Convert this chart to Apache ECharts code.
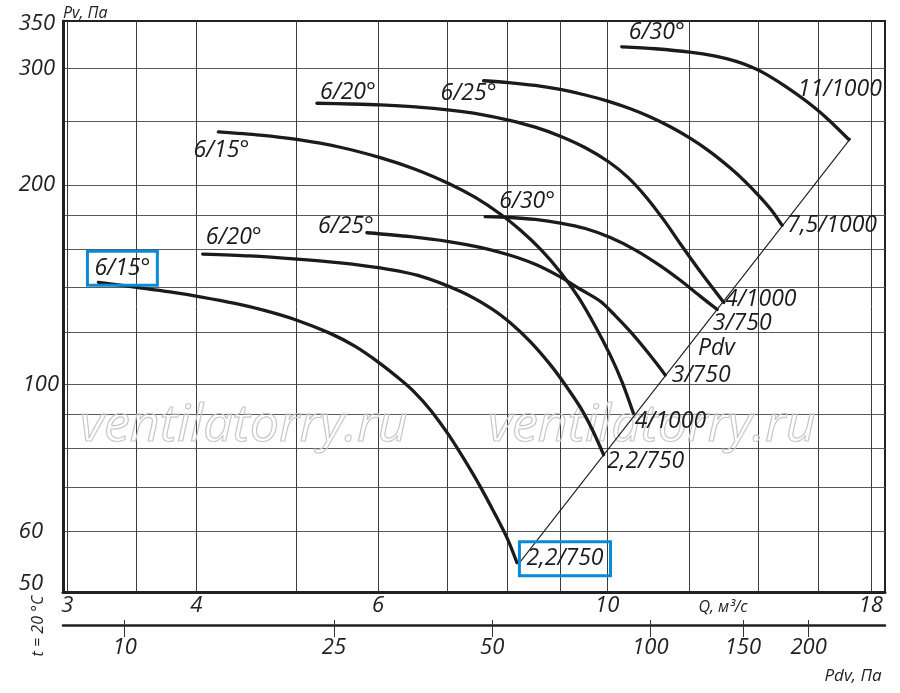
<!DOCTYPE html>
<html><head><meta charset="utf-8">
<script src="https://cdn.jsdelivr.net/npm/echarts@6/dist/echarts.min.js"></script>
<style>html,body{margin:0;padding:0;background:#fff}#c{width:900px;height:693px}</style>
</head><body><div id="c"></div>
<script>
// ---- axis ticks / grid values ----
const qTicks = [3, 4, 6, 10, 18];
const qGrid = [3, 3.5, 4, 5, 6, 7, 8, 9, 10, 12, 14, 16, 18];
const pvTicks = [50, 60, 100, 200, 300, 350];
const pvGrid = [60, 70, 80, 90, 100, 120, 140, 160, 180, 200, 250, 300];
const pdvTicks = [10, 25, 50, 100, 150, 200];

// ---- curves: Q, m3/s  and  Pv, Pa ----
// 750 rpm family
const lo15Q  = [3.215, 3.502, 3.772, 4.034, 4.361, 4.664, 5.005, 5.392, 5.701, 6.028, 6.304, 6.494, 6.741, 7.022, 7.260, 7.534, 7.762, 7.996, 8.177];
const lo15Pv = [142.6, 140.1, 137.9, 135.6, 132.5, 129.2, 125.0, 119.4, 114.1, 107.5, 101.7, 97.6, 91.5, 83.9, 77.3, 70.1, 64.3, 58.7, 53.8];
const lo20Q  = [4.057, 4.510, 5.005, 5.513, 6.028, 6.591, 7.204, 7.704, 8.055, 8.423, 8.807, 9.108, 9.419, 9.674, 9.920];
const lo20Pv = [157.3, 156.3, 154.6, 152.6, 149.9, 145.7, 138.2, 130.5, 123.9, 116.0, 107.1, 99.8, 92.3, 85.4, 78.3];
const lo25Q  = [5.851, 6.446, 7.022, 7.534, 8.024, 8.517, 9.006, 9.417, 9.847, 10.18, 10.53, 10.89, 11.17, 11.38];
const lo25Pv = [169.4, 167.1, 164.3, 161.0, 156.9, 151.8, 145.3, 139.2, 133.5, 127.0, 120.1, 112.9, 107.4, 103.3];
const lo30Q  = [7.617, 8.055, 8.517, 9.006, 9.524, 10.07, 10.65, 11.26, 11.77, 12.31, 12.78];
const lo30Pv = [179.1, 178.6, 177.4, 175.2, 171.9, 166.6, 159.5, 151.0, 143.6, 135.8, 129.7];
// 1000 rpm family
const up15Q  = [4.201, 4.611, 5.005, 5.513, 6.028, 6.516, 7.045, 7.451, 7.877, 8.237, 8.612, 9.006, 9.376, 9.737, 10.07, 10.34, 10.60];
const up15Pv = [240.6, 237.9, 234.3, 228.0, 219.9, 211.2, 200.5, 191.5, 180.8, 171.0, 160.1, 147.8, 135.4, 122.4, 110.6, 100.7, 90.5];
const up20Q  = [5.234, 5.637, 6.028, 6.516, 7.045, 7.534, 8.024, 8.517, 9.006, 9.524, 10.03, 10.48, 10.93, 11.38, 11.77, 12.31, 12.97];
const up20Pv = [265.7, 265.0, 264.1, 262.3, 259.4, 255.7, 250.6, 244.5, 236.9, 227.6, 216.8, 205.2, 191.0, 175.9, 163.0, 147.9, 132.9];
const up25Q  = [7.590, 8.024, 8.517, 9.006, 9.524, 10.03, 10.53, 11.01, 11.51, 12.04, 12.59, 13.16, 13.61, 14.07, 14.45, 14.77];
const up25Pv = [287.3, 285.5, 282.6, 278.7, 273.4, 267.4, 260.6, 253.3, 244.8, 235.1, 224.2, 212.1, 202.2, 191.6, 182.6, 173.8];
const up30Q  = [10.33, 11.13, 12.02, 12.73, 13.31, 13.76, 14.23, 14.88, 15.56, 16.27, 17.14];
const up30Pv = [323.3, 321.1, 317.4, 312.9, 307.5, 301.8, 294.3, 281.8, 268.2, 253.3, 234.2];
// dynamic pressure line
const pdvLineQ  = [8.24, 17.2];
const pdvLinePv = [54.0, 235.0];

// ---- labels ----
const startLabels = ['6/15°', '6/20°', '6/25°', '6/30°', '6/15°', '6/20°', '6/25°', '6/30°'];
const endLabels   = ['2,2/750', '2,2/750', '3/750', '3/750', '4/1000', '4/1000', '7,5/1000', '11/1000'];

const FONT = '"Open Sans", "Noto Sans", sans-serif';
const INK = '#1b1b1b';
const BLUE = '#0a8ad6';

const curves = [
  {q: lo15Q, p: lo15Pv, s: [24, -14], e: [48, -4], boxS: true, boxE: true},
  {q: lo20Q, p: lo20Pv, s: [31, -17], e: [42, 7]},
  {q: lo25Q, p: lo25Pv, s: [-21, -6], e: [36, 0]},
  {q: lo30Q, p: lo30Pv, s: [42, -15], e: [25, 14]},
  {q: up15Q, p: up15Pv, s: [3, 19], e: [37, 8]},
  {q: up20Q, p: up20Pv, s: [31, -11], e: [37, -3]},
  {q: up25Q, p: up25Pv, s: [-15, 13], e: [50, 0]},
  {q: up30Q, p: up30Pv, s: [35, -14], e: [-9, -50]}
];

function lbl(text, off, boxed) {
  const o = {show: true, position: 'inside', formatter: text, offset: off,
    fontFamily: FONT, fontStyle: 'italic', fontSize: 23, color: INK};
  if (boxed) Object.assign(o, {borderColor: BLUE, borderWidth: 3, padding: [6, 7, 5, 7]});
  return o;
}

const series = curves.map((c, k) => ({
  type: 'line', xAxisIndex: 0, yAxisIndex: 0, smooth: 0.3,
  symbol: 'circle', symbolSize: 2, showSymbol: true,
  itemStyle: {color: INK}, lineStyle: {color: INK, width: 3.3, cap: 'round', join: 'round'},
  silent: true, emphasis: {disabled: true}, z: 3,
  label: {show: false},
  data: c.q.map((q, i) => {
    const item = {value: [q, c.p[i]]};
    if (i === 0) item.label = lbl(startLabels[k], c.s, c.boxS);
    if (i === c.q.length - 1) item.label = lbl(endLabels[k], c.e, c.boxE);
    return item;
  })
}));
series.push({
  type: 'line', xAxisIndex: 0, yAxisIndex: 0,
  symbol: 'circle', symbolSize: 1, showSymbol: true,
  itemStyle: {color: INK}, lineStyle: {color: INK, width: 1.1},
  silent: true, emphasis: {disabled: true}, z: 2,
  data: pdvLineQ.map((q, i) => {
    const item = {value: [q, pdvLinePv[i]]};
    if (i === 1) item.label = lbl('Pdv', [-134, 210], false);
    return item;
  })
});

const axisFont = {fontFamily: FONT, fontStyle: 'italic', fontSize: 22, color: '#222'};
const yRich = {
  n: Object.assign({padding: [0, 4, 0, 0]}, axisFont),
  m: Object.assign({padding: [0, 0, 0, 0]}, axisFont),
  s: Object.assign({padding: [0, 16, 0, 0]}, axisFont)
};

const option = {
  animation: false,
  backgroundColor: '#fff',
  grid: {left: 63, right: 15, top: 21, bottom: 101, show: true, borderColor: '#222', borderWidth: 2,
         containLabel: false, outerBoundsMode: 'none'},
  xAxis: [
    {type: 'log', min: 2.971, max: 18.58, position: 'bottom',
     axisLine: {show: true, onZero: false, lineStyle: {color: '#222', width: 3}},
     axisTick: {show: false, customValues: qGrid},
     axisLabel: Object.assign({customValues: qTicks, margin: 3, formatter: v => String(Math.round(v))}, axisFont),
     splitLine: {show: true, lineStyle: {color: '#3c3c3c', width: 1}}},
    {type: 'log', min: 7.63, max: 279.5, position: 'bottom', offset: 33,
     axisLine: {show: true, onZero: false, lineStyle: {color: '#222', width: 2.5}},
     axisTick: {show: true, inside: false, length: 12, customValues: pdvTicks, lineStyle: {color: '#333', width: 1}},
     axisLabel: Object.assign({customValues: pdvTicks, margin: 12, formatter: v => String(Math.round(v))}, axisFont),
     splitLine: {show: false}},
    {type: 'log', min: 7.63, max: 279.5, position: 'bottom', offset: 33,
     axisLine: {show: false},
     axisTick: {show: true, inside: true, length: 5, customValues: pdvTicks, lineStyle: {color: '#333', width: 1}},
     axisLabel: {show: false},
     splitLine: {show: false}}
  ],
  yAxis: {
    type: 'log', min: 48.6, max: 353.6,
    axisLine: {show: true, onZero: false, lineStyle: {color: '#222', width: 3}},
    axisTick: {show: false, customValues: pvGrid},
    axisLabel: {customValues: pvTicks, margin: 4, rich: yRich,
      formatter: v => { const r = Math.round(v); return '{' + (r <= 60 ? 's' : r === 100 ? 'm' : 'n') + '|' + r + '}'; }},
    splitLine: {show: true, lineStyle: {color: '#5a5a5a', width: 1.2}},
    name: 'Pv, Па', nameLocation: 'end', nameGap: 0,
    nameTextStyle: {fontFamily: FONT, fontStyle: 'italic', fontSize: 16, color: '#222', align: 'left', verticalAlign: 'bottom'}
  },
  graphic: [
    {type: 'text', x: 80, y: 426, z: 1, silent: true,
     style: {text: 'ventilatorry.ru', font: 'italic 52px "Open Sans", sans-serif', fill: 'transparent', stroke: '#c8c8c8', lineWidth: 1.2, verticalAlign: 'middle'}},
    {type: 'text', x: 488, y: 426, z: 1, silent: true,
     style: {text: 'ventilatorry.ru', font: 'italic 52px "Open Sans", sans-serif', fill: 'transparent', stroke: '#c8c8c8', lineWidth: 1.2, verticalAlign: 'middle'}},
    {type: 'text', x: 723, y: 607, z: 5, silent: true,
     style: {text: 'Q, м³/с', font: 'italic 16px "Open Sans", sans-serif', fill: '#222', align: 'center', verticalAlign: 'middle'}},
    {type: 'text', x: 853, y: 676, z: 5, silent: true,
     style: {text: 'Pdv, Па', font: 'italic 17px "Open Sans", sans-serif', fill: '#222', align: 'center', verticalAlign: 'middle'}},
    {type: 'text', x: 38, y: 626, rotation: Math.PI / 2, z: 5, silent: true,
     style: {text: 't = 20 °C', font: 'italic 16px "Open Sans", sans-serif', fill: '#222', align: 'center', verticalAlign: 'middle'}}
  ],
  series: series
};

const chart = echarts.init(document.getElementById('c'), null, {renderer: 'canvas'});
chart.setOption(option);
</script>
</body></html>
